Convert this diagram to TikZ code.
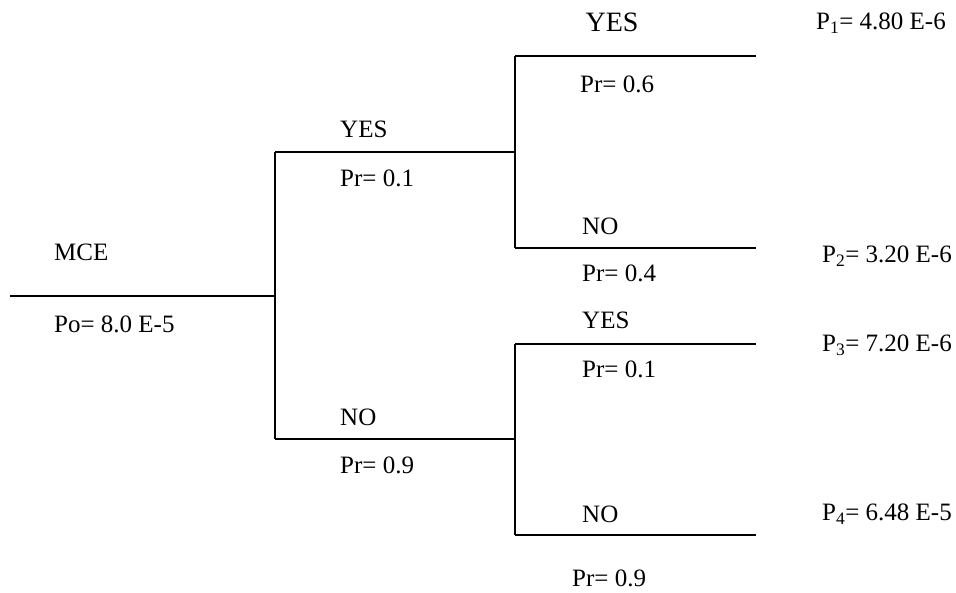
\documentclass[tikz,border=0pt]{standalone}
\usepackage{fontspec}
\setmainfont{Liberation Serif}
\begin{document}
\begin{tikzpicture}[x=1pt, y=-1pt,
    branch/.style={line width=2pt},
    lbl/.style={anchor=west, inner sep=0pt, font=\fontsize{25}{29}\selectfont},
    biglbl/.style={anchor=center, inner sep=0pt, font=\fontsize{28}{32}\selectfont}]
  \useasboundingbox (0, 0) rectangle (956, 593);
  % junctions of the tree
  \coordinate (start) at (10, 296);
  \coordinate (root) at (275, 296);
  \coordinate (a) at (275, 152);
  \coordinate (b) at (275, 439);
  \coordinate (aa) at (515, 152);
  \coordinate (bb) at (515, 439);
  \coordinate (a1) at (515, 56);
  \coordinate (a2) at (515, 248);
  \coordinate (b1) at (515, 344);
  \coordinate (b2) at (515, 535);
  \coordinate (e1) at (756, 56);
  \coordinate (e2) at (756, 248);
  \coordinate (e3) at (756, 344);
  \coordinate (e4) at (756, 535);
  % branches
  \draw[branch] (start) -- (root);
  \draw[branch] (a) -- (b);
  \draw[branch] (a) -- (aa);
  \draw[branch] (b) -- (bb);
  \draw[branch] (a1) -- (a2);
  \draw[branch] (b1) -- (b2);
  \draw[branch] (a1) -- (e1);
  \draw[branch] (a2) -- (e2);
  \draw[branch] (b1) -- (e3);
  \draw[branch] (b2) -- (e4);
  % labels
  \node[lbl] (mce) at (54, 252) {MCE};
  \node[lbl] (po) at (54, 324) {Po= 8.0 E-5};
  \node[lbl] (yesA) at (340, 129) {YES};
  \node[lbl] (prA) at (340, 178) {Pr= 0.1};
  \node[lbl] (noB) at (340, 417) {NO};
  \node[lbl] (prB) at (340, 465) {Pr= 0.9};
  \node[biglbl] (yes1) at (612, 22) {YES};
  \node[lbl] (pr1) at (580, 84) {Pr= 0.6};
  \node[lbl] (no2) at (582, 226) {NO};
  \node[lbl] (pr2) at (582, 273) {Pr= 0.4};
  \node[lbl] (yes3) at (582, 320) {YES};
  \node[lbl] (pr3) at (582, 369) {Pr= 0.1};
  \node[lbl] (no4) at (582, 514) {NO};
  \node[lbl] (pr4) at (572, 578) {Pr= 0.9};
  \node[lbl] (p1) at (816, 23) {P\textsubscript{1}= 4.80 E-6};
  \node[lbl] (p2) at (822, 256) {P\textsubscript{2}= 3.20 E-6};
  \node[lbl] (p3) at (822, 345) {P\textsubscript{3}= 7.20 E-6};
  \node[lbl] (p4) at (822, 514) {P\textsubscript{4}= 6.48 E-5};
\end{tikzpicture}
\end{document}
